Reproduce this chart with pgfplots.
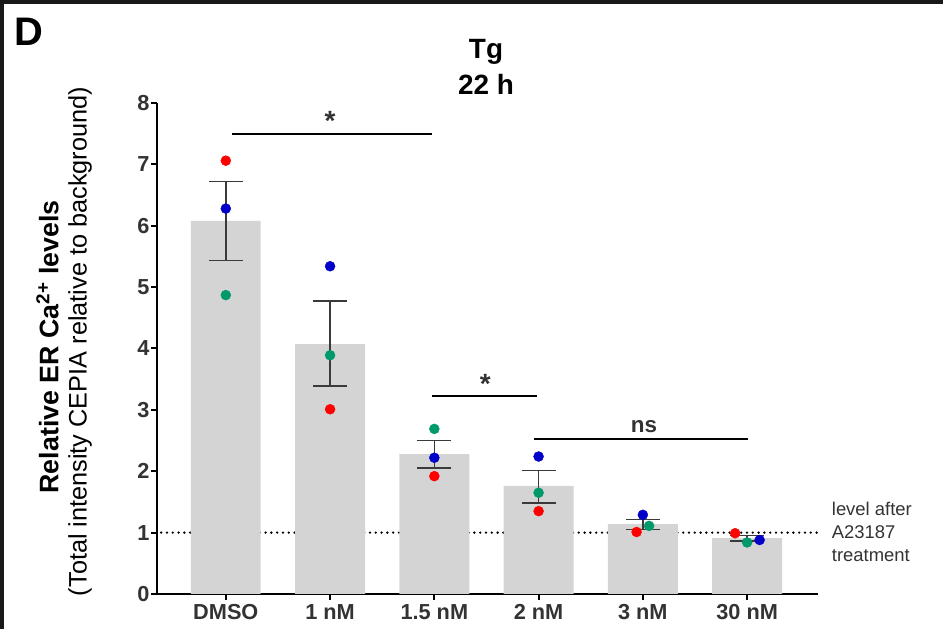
\documentclass[border=0pt]{standalone}
\usepackage{fontspec}
\setmainfont{Liberation Sans}
\usepackage{pgfplots}
\pgfplotsset{compat=1.18}
\definecolor{barGray}{HTML}{D4D4D4}
\definecolor{dotRed}{HTML}{FF0000}
\definecolor{dotBlue}{HTML}{0000C8}
\definecolor{dotGreen}{HTML}{00996B}
\definecolor{txtGray}{HTML}{333333}
\definecolor{errGray}{HTML}{3A3A3A}
\begin{document}
\begin{tikzpicture}[x=1bp,y=1bp]
\path[use as bounding box] (0,0) rectangle (943,629);
\begin{axis}[
  at={(157bp,35bp)}, anchor=south west,
  scale only axis, width=661bp, height=491bp,
  xmin=-0.66, xmax=5.68, ymin=0, ymax=8,
  axis x line*=bottom, axis y line*=left,
  axis line style={line width=2bp, black, -},
  xtick={0,1,2,3,4,5},
  xticklabels={DMSO,1 nM,1.5 nM,2 nM,3 nM,30 nM},
  ytick={0,1,...,8},
  tick align=outside, major tick length=6bp,
  tick style={line width=2bp, black},
  /pgf/number format/assume math mode=true,
  ticklabel style={font=\bfseries\fontsize{21.8}{25}\selectfont, text=txtGray},
  xticklabel style={yshift=-1bp},
  yticklabel style={xshift=2bp},
  clip=false,
]
% dotted reference line (drawn first, hidden by bars)
\addplot[black, line width=2.6bp, line cap=round, dash pattern=on 0pt off 5.8bp] coordinates {(-0.62,1) (5.68,1)};
% bars
\addplot[ybar, bar width=0.67, fill=barGray, draw=none, bar shift=0pt] coordinates {
 (0,6.08) (1,4.07) (2,2.28) (3,1.76) (4,1.14) (5,0.91)};
% error bars (SEM)
\addplot[draw=none, mark=none, forget plot,
  error bars/.cd, y dir=both, y explicit,
  error bar style={line width=1.5bp, errGray},
  error mark options={rotate=90, mark size=17bp, line width=1.5bp, errGray}]
  coordinates {
 (0,6.075) +- (0,0.645)
 (1,4.08) +- (0,0.69)
 (2,2.275) +- (0,0.225)
 (3,1.745) +- (0,0.265)
 (4,1.13) +- (0,0.08)
 (5,0.905) +- (0,0.045)};
% individual replicates
\addplot[only marks, mark=*, mark size=5bp, color=dotRed] coordinates {
 (0,7.06) (1,3.01) (2,1.92) (3,1.35) (3.94,1.01) (4.885,0.99)};
\addplot[only marks, mark=*, mark size=5bp, color=dotGreen] coordinates {
 (0,4.87) (1,3.89) (2,2.69) (3,1.65) (4.06,1.11) (5,0.84)};
\addplot[only marks, mark=*, mark size=5bp, color=dotBlue] coordinates {
 (0,6.28) (1,5.34) (2,2.22) (3,2.24) (4,1.29) (5.12,0.88)};
% significance lines
\addplot[black, line width=2bp] coordinates {(0.06,7.5) (1.98,7.5)};
\addplot[black, line width=2bp] coordinates {(1.98,3.22) (2.98,3.22)};
\addplot[black, line width=2bp] coordinates {(2.96,2.52) (5.01,2.52)};
\node[anchor=base, font=\bfseries\fontsize{28}{30}\selectfont, text=txtGray, inner sep=0pt] at (axis cs:1.0,7.55) {*};
\node[anchor=base, font=\bfseries\fontsize{28}{30}\selectfont, text=txtGray, inner sep=0pt] at (axis cs:2.49,3.27) {*};
\node[anchor=base, font=\bfseries\fontsize{22.5}{25}\selectfont, text=txtGray, inner sep=0pt] at (axis cs:4.01,2.63) {ns};
\end{axis}
% frame
\fill[black!90] (0,625) rectangle (943,629);
\fill[black!90] (0,0) rectangle (3.5,629);
% panel letter
\node[anchor=base west, inner sep=0pt, font=\bfseries\fontsize{40}{44}\selectfont] at (14,583) {D};
% title
\node[anchor=base, inner sep=0pt, font=\bfseries\fontsize{28}{32}\selectfont] at (486,570) {Tg};
\node[anchor=base, inner sep=0pt, font=\bfseries\fontsize{28}{32}\selectfont] at (486,534) {22 h};
% y label
\node[anchor=base, rotate=90, inner sep=0pt, font=\bfseries\fontsize{26.9}{30}\selectfont] at (58.3,282) {Relative ER Ca\textsuperscript{2+} levels};
\node[anchor=base, rotate=90, inner sep=0pt, font=\fontsize{25.4}{29}\selectfont] at (86.5,287.5) {(Total intensity CEPIA relative to background)};
% reference-line note
\node[anchor=base west, inner sep=0pt, text=txtGray, font=\fontsize{18.5}{22}\selectfont] at (831.7,113) {level after};
\node[anchor=base west, inner sep=0pt, text=txtGray, font=\fontsize{18.5}{22}\selectfont] at (831.7,90.7) {A23187};
\node[anchor=base west, inner sep=0pt, text=txtGray, font=\fontsize{18.5}{22}\selectfont] at (831.7,67.3) {treatment};
\end{tikzpicture}
\end{document}
